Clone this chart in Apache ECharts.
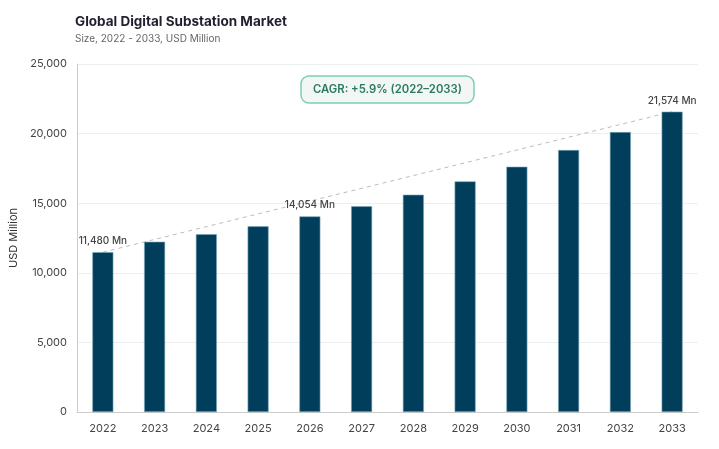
<!DOCTYPE html>
<html>
<head>
<meta charset="utf-8">
<script src="https://cdn.jsdelivr.net/npm/echarts@6/dist/echarts.min.js"></script>
<style>
  html, body { margin: 0; padding: 0; background: #fff; }
  #chart { width: 719px; height: 449px; }
</style>
</head>
<body>
<div id="chart"></div>
<script>
const years = ['2022', '2023', '2024', '2025', '2026', '2027', '2028', '2029', '2030', '2031', '2032', '2033'];
const marketSize = [11480, 12230, 12770, 13340, 14054, 14780, 15610, 16570, 17620, 18820, 20110, 21574];
// only these bars carry a value label
const labelled = ['2022', '2026', '2033'];
const yTicks = [0, 5000, 10000, 15000, 20000, 25000];

const trend = years.map((y, i) => (i === 0 || i === years.length - 1) ? marketSize[i] : null);

const font = 'Inter, "Noto Sans", sans-serif';
const chart = echarts.init(document.getElementById('chart'));

chart.setOption({
  animation: false,
  textStyle: { fontFamily: font },
  title: [
    {
      text: 'Global Digital Substation Market',
      subtext: 'Size, 2022 - 2033, USD Million',
      left: 70,
      top: 10,
      itemGap: 5,
      textStyle: { fontSize: 13.5, fontWeight: 'bold', color: '#1f1f2e', fontFamily: font },
      subtextStyle: { fontSize: 10, color: '#666', fontFamily: font }
    },
    {
      text: 'CAGR: +5.9% (2022–2033)',
      left: 301,
      top: 76,
      padding: [8, 12, 8, 12],
      backgroundColor: '#f2f7f6',
      borderColor: '#7ccfb4',
      borderWidth: 1.5,
      borderRadius: 8,
      textStyle: { fontSize: 11.3, fontWeight: 600, color: '#2b7a5c', fontFamily: font }
    }
  ],
  grid: { left: 76, right: 21, top: 64, bottom: 37, containLabel: false },
  xAxis: {
    type: 'category',
    data: years,
    axisLine: { lineStyle: { color: '#ccc' } },
    axisTick: { show: false },
    axisLabel: { color: '#444', fontSize: 11, margin: 11 }
  },
  yAxis: {
    type: 'value',
    min: yTicks[0],
    max: yTicks[yTicks.length - 1],
    interval: yTicks[1] - yTicks[0],
    name: 'USD Million',
    nameLocation: 'middle',
    nameGap: 46,
    nameTextStyle: { color: '#333', fontSize: 11 },
    axisLine: { show: true, lineStyle: { color: '#ccc' } },
    axisTick: { show: false },
    splitLine: { lineStyle: { color: '#eceff1' } },
    axisLabel: {
      color: '#444',
      fontSize: 11,
      margin: 10,
      formatter: v => v.toLocaleString('en-US')
    }
  },
  series: [
    {
      type: 'line',
      data: trend,
      connectNulls: true,
      symbol: 'none',
      z: 1,
      lineStyle: { color: '#bbb', width: 1, type: [4, 4] }
    },
    {
      type: 'bar',
      data: marketSize,
      barWidth: 21,
      z: 2,
      itemStyle: { color: '#003e5b', borderColor: '#7aa7b9', borderWidth: 0.6 },
      label: {
        show: true,
        position: 'top',
        distance: 6,
        fontSize: 10,
        fontWeight: 500,
        color: '#444',
        formatter: p => labelled.includes(p.name) ? p.value.toLocaleString('en-US') + ' Mn' : ''
      }
    }
  ]
});
</script>
</body>
</html>
